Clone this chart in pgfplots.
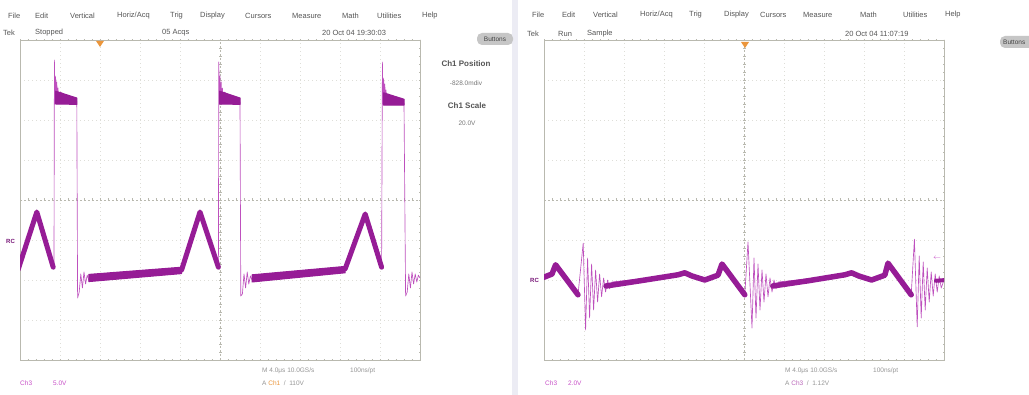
\documentclass[border=0pt]{standalone}
\usepackage{pgfplots}
\pgfplotsset{compat=1.18}
\usepackage{fontspec}
\setmainfont{Liberation Sans}
\definecolor{trace}{RGB}{150,28,150}
\definecolor{thintr}{RGB}{190,80,190}
\definecolor{grd}{RGB}{222,222,216}
\definecolor{ctr}{RGB}{185,185,175}
\definecolor{menu}{RGB}{85,85,85}
\definecolor{info}{RGB}{150,150,150}
\definecolor{chpink}{RGB}{200,80,200}
\definecolor{trig}{RGB}{235,150,60}
\pgfplotsset{
  scopeax/.style={
    scale only axis, width=400pt, height=320pt, anchor=south west,
    xmin=0, xmax=10, ymin=-4, ymax=4,
    xtick={1,...,9}, ytick={-3,...,3},
    xticklabels={}, yticklabels={},
    major tick length=0pt,
    grid=major,
    grid style={grd, line width=0.5pt, dash pattern=on 0.6pt off 3.4pt},
    axis line style={draw=ctr, line width=0.5pt},
    clip=true,
  },
  band/.style={trace, line width=5pt, line join=round, line cap=round, no marks},
  thinl/.style={thintr, line width=0.65pt, line join=round, no marks},
  bandfill/.style={fill=trace, draw=trace, line width=1pt, line join=round, no marks},
}
\newcommand{\graticule}{%
  \draw[ctr, line width=0.5pt, dash pattern=on 2pt off 2pt] (axis cs:5,-4) -- (axis cs:5,4);
  \draw[ctr, line width=0.5pt, dash pattern=on 2pt off 2pt] (axis cs:0,0) -- (axis cs:10,0);
  \draw[ctr, line width=3pt, dash pattern=on 0.5pt off 7.5pt, dash phase=0.25pt] (axis cs:0,0) -- (axis cs:10,0);
  \draw[ctr, line width=3pt, dash pattern=on 0.5pt off 7.5pt, dash phase=0.25pt] (axis cs:5,-4) -- (axis cs:5,4);
  \draw[ctr, line width=2.5pt, dash pattern=on 0.5pt off 7.5pt, dash phase=0.25pt] (axis cs:0,-4) -- (axis cs:0,4);
  \draw[ctr, line width=2.5pt, dash pattern=on 0.5pt off 7.5pt, dash phase=0.25pt] (axis cs:10,-4) -- (axis cs:10,4);
  \draw[ctr, line width=2.5pt, dash pattern=on 0.5pt off 7.5pt, dash phase=0.25pt] (axis cs:0,4) -- (axis cs:10,4);
  \draw[ctr, line width=2.5pt, dash pattern=on 0.5pt off 7.5pt, dash phase=0.25pt] (axis cs:0,-4) -- (axis cs:10,-4);
}
\begin{document}
\begin{tikzpicture}[x=1pt,y=1pt]
\useasboundingbox (0,0) rectangle (1029,395);
\fill[white] (0,0) rectangle (1029,395);
\fill[color={rgb,255:red,236;green,236;blue,244}] (512,0) rectangle (518,395);

% ---------------- left scope ----------------
\begin{axis}[scopeax, at={(20pt,35pt)}]
\graticule
\addplot[thinl] coordinates {
(0,-1.58) (0.42,-0.30) (0.83,-1.68) (0.85,-1.6) (0.86,3.5) (0.875,2.4) (0.89,3.1) (0.905,2.45) (0.92,2.95) (0.935,2.5) (0.95,2.8) (0.97,2.5) (1.0,2.7) (1.42,2.47)
(1.44,-2.45) (1.48,-2.3) (1.52,-1.85) (1.56,-2.2) (1.60,-1.8) (1.64,-2.1) (1.68,-1.88) (1.72,-2.0) (4.04,-1.75) (4.5,-0.30) (4.96,-1.68)
(4.97,3.45) (4.985,2.4) (5.0,3.1) (5.015,2.45) (5.03,2.95) (5.045,2.5) (5.06,2.8) (5.08,2.5) (5.1,2.7) (5.5,2.45)
(5.52,-2.4) (5.56,-2.35) (5.6,-1.85) (5.64,-2.2) (5.68,-1.8) (5.72,-2.1) (5.76,-1.9) (5.8,-2.0) (8.13,-1.72) (8.63,-0.35) (9.04,-1.68)
(9.06,3.45) (9.075,2.4) (9.09,3.05) (9.105,2.45) (9.12,2.9) (9.135,2.5) (9.15,2.75) (9.17,2.5) (9.2,2.65) (9.6,2.42)
(9.64,-2.4) (9.68,-2.3) (9.72,-1.85) (9.76,-2.2) (9.80,-1.8) (9.84,-2.1) (9.88,-1.85) (9.92,-2.05) (9.96,-1.88) (10,-1.95)};
\addplot[band] coordinates {(-0.05,-1.75) (0.42,-0.30) (0.83,-1.68)};
\addplot[band] coordinates {(4.04,-1.75) (4.5,-0.30) (4.96,-1.68)};
\addplot[band] coordinates {(8.13,-1.72) (8.63,-0.35) (9.04,-1.68)};
\addplot[bandfill] coordinates {(0.89,2.72) (1.42,2.55) (1.42,2.39) (0.89,2.4)} -- cycle;
\addplot[bandfill] coordinates {(4.99,2.72) (5.5,2.55) (5.5,2.39) (4.99,2.4)} -- cycle;
\addplot[bandfill] coordinates {(9.09,2.68) (9.6,2.52) (9.6,2.37) (9.09,2.37)} -- cycle;
\addplot[bandfill] coordinates {(1.72,-1.86) (4.04,-1.68) (4.04,-1.84) (1.72,-2.04)} -- cycle;
\addplot[bandfill] coordinates {(5.8,-1.87) (8.13,-1.66) (8.13,-1.82) (5.8,-2.05)} -- cycle;
\end{axis}

% ---------------- right scope ----------------
\begin{axis}[scopeax, at={(544pt,35pt)}]
\graticule
\addplot[thinl] coordinates {
(0,-1.95) (0.2,-1.85) (0.29,-1.62) (0.85,-2.37) (0.98,-1.08) (1.04,-3.25) (1.09,-1.45) (1.14,-2.95) (1.19,-1.6) (1.24,-2.75) (1.29,-1.75) (1.34,-2.55) (1.39,-1.85) (1.44,-2.42) (1.49,-1.95) (1.54,-2.3) (1.59,-2.0) (1.64,-2.22) (1.7,-2.05)
(3.35,-1.87) (3.52,-1.82) (3.7,-1.9) (4.02,-2.0) (4.35,-1.88) (4.45,-1.6) (5.02,-2.37)
(5.1,-1.05) (5.2,-3.2) (5.25,-1.45) (5.3,-2.95) (5.35,-1.6) (5.4,-2.75) (5.45,-1.75) (5.5,-2.55) (5.55,-1.85) (5.6,-2.42) (5.65,-1.95) (5.7,-2.3) (5.75,-2.0) (5.8,-2.22) (5.86,-2.05)
(7.52,-1.87) (7.69,-1.82) (7.87,-1.9) (8.19,-2.0) (8.52,-1.88) (8.6,-1.58) (9.18,-2.37)
(9.26,-0.98) (9.33,-3.17) (9.38,-1.4) (9.43,-2.95) (9.48,-1.55) (9.53,-2.75) (9.58,-1.7) (9.63,-2.55) (9.68,-1.8) (9.73,-2.4) (9.78,-1.85) (9.83,-2.3) (9.88,-1.9) (9.93,-2.2) (10,-2.0)};
\addplot[band, line width=5.5pt] coordinates {(-0.05,-1.95) (0.2,-1.85) (0.29,-1.62) (0.85,-2.37)};
\addplot[band, line width=5.5pt] coordinates {(1.55,-2.15) (2.4,-2.02) (3.35,-1.87) (3.52,-1.82) (3.7,-1.9) (4.02,-2.0) (4.35,-1.88) (4.45,-1.6) (5.02,-2.37)};
\addplot[band, line width=5.5pt] coordinates {(5.72,-2.15) (6.6,-2.02) (7.52,-1.87) (7.69,-1.82) (7.87,-1.9) (8.19,-2.0) (8.52,-1.88) (8.6,-1.58) (9.18,-2.37)};
\addplot[band, line width=4pt] coordinates {(9.8,-2.02) (10.05,-2.0)};
\end{axis}

% ---------------- texts ----------------
\begin{scope}[every node/.style={inner sep=0pt, anchor=west, text=menu, font=\fontsize{7.5}{8}\selectfont}]
\node at (8,379) {File}; \node at (35,379) {Edit}; \node at (70,379) {Vertical};
\node at (117,379) {Horiz/Acq}; \node at (170,379) {Trig}; \node at (200,379) {Display};
\node at (245,379) {Cursors}; \node at (292,379) {Measure}; \node at (342,379) {Math};
\node at (377,379) {Utilities}; \node at (422,379) {Help};
\node at (3,362) {Tek}; \node at (35,362) {Stopped}; \node at (162,362) {05 Acqs};
\node at (322,362) {20 Oct 04 19:30:03};
\node at (532,380) {File}; \node at (562,380) {Edit}; \node at (593,380) {Vertical};
\node at (640,380) {Horiz/Acq}; \node at (689,380) {Trig}; \node at (724,380) {Display};
\node at (760,380) {Cursors}; \node at (803,380) {Measure}; \node at (860,380) {Math};
\node at (903,380) {Utilities}; \node at (945,380) {Help};
\node at (527,361) {Tek}; \node at (558,361) {Run}; \node at (587,361) {Sample};
\node at (845,361) {20 Oct 04 11:07:19};
\end{scope}

% buttons
\fill[gray!45, rounded corners=5pt] (477,350) rectangle (513,362);
\node[inner sep=0pt, text=menu!80!black, font=\fontsize{6.5}{7}\selectfont] at (495,356) {Buttons};
\begin{scope}
\clip (990,0) rectangle (1029,395);
\fill[gray!45, rounded corners=5pt] (1000,347) rectangle (1040,359);
\node[inner sep=0pt, anchor=west, text=menu!80!black, font=\fontsize{6.5}{7}\selectfont] at (1003,353) {Buttons};
\end{scope}

% channel info
\begin{scope}[every node/.style={inner sep=0pt, text=menu}]
\node[font=\bfseries\fontsize{8}{9}\selectfont] at (466,331) {Ch1 Position};
\node[font=\fontsize{6.5}{7}\selectfont, text=info!80!black] at (466,312) {-828.0mdiv};
\node[font=\bfseries\fontsize{8}{9}\selectfont] at (467,289) {Ch1 Scale};
\node[font=\fontsize{6.5}{7}\selectfont, text=info!80!black] at (467,272) {20.0V};
\end{scope}

% bottom info
\begin{scope}[every node/.style={inner sep=0pt, anchor=west, text=info, font=\fontsize{6.5}{7}\selectfont}]
\node[text=chpink] at (20,12) {Ch3}; \node[text=chpink] at (53,12) {5.0V};
\node at (262,24) {M 4.0μs 10.0GS/s}; \node at (350,24) {100ns/pt};
\node at (262,12) {A \textcolor{trig}{Ch1} \ /\ \ 110V};
\node[text=chpink] at (545,12) {Ch3}; \node[text=chpink] at (568,12) {2.0V};
\node at (785,24) {M 4.0μs 10.0GS/s}; \node at (873,24) {100ns/pt};
\node at (785,12) {A \textcolor{chpink!70!info}{Ch3} \ /\ \ 1.12V};
\end{scope}

% trigger markers and ground markers
\fill[trig] (96,354) -- (104,354) -- (100,348) -- cycle;
\fill[trig] (741,353) -- (749,353) -- (745,347) -- cycle;
\node[inner sep=0pt, anchor=west, text=trace!80!black, font=\bfseries\fontsize{6}{6}\selectfont] at (6,154) {RC};
\node[inner sep=0pt, anchor=west, text=trace!80!black, font=\bfseries\fontsize{6}{6}\selectfont] at (530,115) {RC};
\node[inner sep=0pt, text=chpink, font=\fontsize{7}{7}\selectfont] at (937,137) {$\leftarrow$};
\end{tikzpicture}
\end{document}
